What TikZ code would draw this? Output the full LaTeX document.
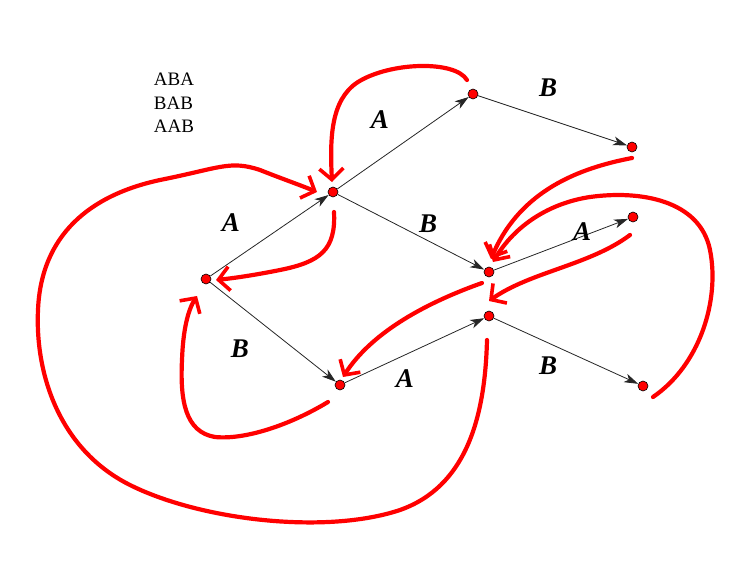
\documentclass[tikz,border=0pt]{standalone}
\usepackage{fontspec}
\setmainfont{Liberation Serif}
\usetikzlibrary{arrows.meta,calc}
\begin{document}
\begin{tikzpicture}[x=1pt,y=-1pt,
  state/.style={circle,fill=red,draw=black,line width=0.6pt,minimum size=10pt,inner sep=0pt},
  trans/.style={draw=black!85,line width=0.8pt,-{Stealth[length=14pt,width=9pt,inset=4pt]}},
  lab/.style={font=\fontsize{27}{27}\selectfont\bfseries\itshape,inner sep=0pt},
  fail/.style={draw=red,line width=4.2pt,line cap=round,line join=round,
    -{Straight Barb[length=11pt,width=24pt,line width=3.6pt]}}]
\useasboundingbox (0,0) rectangle (750,562);

% states
\node[state] (R)   at (206,279) {};
\node[state] (A1)  at (333,192) {};
\node[state] (B1)  at (340,385) {};
\node[state] (AA)  at (473,94)  {};
\node[state] (AB)  at (489,272) {};
\node[state] (BA)  at (489,316) {};
\node[state] (AAB) at (632,147) {};
\node[state] (ABA) at (633,217) {};
\node[state] (BAB) at (643,386) {};

% transitions
\draw[trans] (R) -- (A1);
\draw[trans] (R) -- (B1);
\draw[trans] (A1) -- (AA);
\draw[trans] (A1) -- (AB);
\draw[trans] (AA) -- (AAB);
\draw[trans] (AB) -- (ABA);
\draw[trans] (B1) -- (BA);
\draw[trans] (BA) -- (BAB);

% labels
\node[lab] (lB1) at (548,88)  {B};
\node[lab] (lA1) at (380,120) {A};
\node[lab] (lA2) at (231,223) {A};
\node[lab] (lB2) at (428,224) {B};
\node[lab] (lA3) at (582,232) {A};
\node[lab] (lB3) at (240,349) {B};
\node[lab] (lA4) at (405,379) {A};
\node[lab] (lB4) at (548,366) {B};

\node[align=left,inner sep=0pt,font=\fontsize{19}{23.5}\selectfont] (words) at (174,103) {ABA\\BAB\\AAB};

% failure links (free ends)
\coordinate (s1) at (467,80);  \coordinate (e1) at ($(A1)+(-1,-10)$);
\coordinate (s2) at (632,158); \coordinate (e2) at ($(AB)+(2,-13)$);
\coordinate (s3) at (653,397); \coordinate (e3) at ($(AB)+(4,-10)$);
\coordinate (s4) at (630,235); \coordinate (e4) at ($(BA)+(0,-15)$);
\coordinate (s5) at (482,283); \coordinate (e5) at ($(B1)+(3,-8)$);
\coordinate (s6) at (487,340); \coordinate (e6) at ($(A1)+(-16,0)$);
\coordinate (s7) at (328,402); \coordinate (e7) at ($(R)+(-9,17)$);
\coordinate (s8) at (334,212); \coordinate (e8) at ($(R)+(10,1)$);

\draw[fail] (s1) .. controls (455,60) and (390,62) .. (358,82)
                 .. controls (330,100) and (330,140) .. (e1);
\draw[fail] (s2) .. controls (580,168) and (520,190) .. (e2);
\draw[fail] (s3) .. controls (700,365) and (720,300) .. (710,250)
                 .. controls (700,200) and (640,190) .. (590,197)
                 .. controls (550,203) and (515,225) .. (e3);
\draw[fail] (s4) .. controls (590,265) and (530,272) .. (e4);
\draw[fail] (s5) .. controls (420,305) and (370,335) .. (e5);
\draw[fail] (s6) .. controls (485,420) and (465,487) .. (400,510)
                 .. controls (325,535) and (200,520) .. (130,485)
                 .. controls (60,450) and (35,375) .. (38,310)
                 .. controls (41,235) and (90,195) .. (160,180)
                 .. controls (220,168) and (230,160) .. (260,170)
                 .. controls (280,178) and (300,185) .. (e6);
\draw[fail] (s7) .. controls (290,425) and (245,440) .. (215,437)
                 .. controls (185,432) and (180,400) .. (182,360)
                 .. controls (183,330) and (188,310) .. (e7);
\draw[fail] (s8) .. controls (336,250) and (320,262) .. (280,270)
                 .. controls (255,275) and (235,278) .. (e8);
\end{tikzpicture}
\end{document}
